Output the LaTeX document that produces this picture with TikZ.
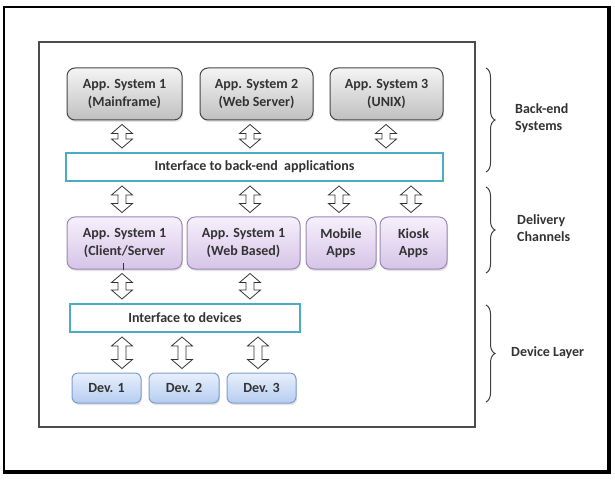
\documentclass[tikz,border=0pt]{standalone}
\usepackage{fontspec}
\setmainfont{Carlito}
\usetikzlibrary{calc,shadows,decorations.pathreplacing}
\definecolor{txt}{HTML}{333333}
\definecolor{teal}{HTML}{4BACC6}
\definecolor{gtop}{HTML}{F4F4F4}
\definecolor{gbot}{HTML}{C0C0C0}
\definecolor{ptop}{HTML}{F6F0FB}
\definecolor{pbot}{HTML}{D6C4E8}
\definecolor{pdraw}{HTML}{9A88B4}
\definecolor{btop}{HTML}{E8F0FC}
\definecolor{bbot}{HTML}{B5CCF0}
\definecolor{bdraw}{HTML}{7F9DCF}
\newcommand\udarrow[3]{%
  \path[udarr] let \p1=(#2.south), \p2=(#3.north), \n1={\y1-4pt}, \n2={\y2+4pt} in
  (#1pt,\n1) -- (#1pt+10.5pt,\n1-9pt) -- (#1pt+4pt,\n1-9pt) -- (#1pt+4pt,\n2+9pt)
  -- (#1pt+10.5pt,\n2+9pt) -- (#1pt,\n2) -- (#1pt-10.5pt,\n2+9pt) -- (#1pt-4pt,\n2+9pt)
  -- (#1pt-4pt,\n1-9pt) -- (#1pt-10.5pt,\n1-9pt) -- cycle;}
\begin{document}
\begin{tikzpicture}[x=1pt,y=-1pt,
  every node/.style={font=\bfseries\fontsize{14}{17.5}\selectfont, text=txt, align=center, inner sep=0pt},
  box/.style={rounded corners=8pt, line width=1pt,
    drop shadow={opacity=0.22, shadow xshift=1pt, shadow yshift=-2pt}},
  gbox/.style={box, draw=black!72, top color=gtop, bottom color=gbot, minimum height=52pt},
  pbox/.style={box, draw=pdraw, top color=ptop, bottom color=pbot, minimum height=52pt},
  dbox/.style={box, rounded corners=6pt, draw=bdraw, top color=btop, bottom color=bbot, minimum height=30pt},
  ibox/.style={draw=teal, line width=2pt, fill=white, minimum height=28pt},
  udarr/.style={draw=black!80, line width=0.8pt, fill=white},
  brc/.style={draw=black!75, line width=1pt, decorate, decoration={brace, amplitude=9pt}},
  lbl/.style={anchor=west, align=left}]
\useasboundingbox (0,0) rectangle (615,494);
\fill[white] (0,0) rectangle (615,494);
\draw[line width=2pt] (4,7) rectangle (609,472);
\draw[line width=3.5pt] (3,472) -- (609,472) -- (609,6);
\draw[black!70, line width=1.3pt] (39,42) rectangle (475,427);

% back-end systems
\node[gbox, minimum width=115pt] (g1) at (124.5,94) {App. System 1\\(Mainframe)};
\node[gbox, minimum width=113pt] (g2) at (256.5,94) {App. System 2\\(Web Server)};
\node[gbox, minimum width=113pt] (g3) at (386.5,94) {App. System 3\\(UNIX)};
\node[ibox, minimum width=377pt] (ib) at (254.5,167) {Interface to back-end\ \ applications};

% delivery channels
\node[pbox, minimum width=115pt] (p1) at (124.5,243) {App. System 1\\(Client/Server};
\node[pbox, minimum width=113pt] (p2) at (243.5,243) {App. System 1\\(Web Based)};
\node[pbox, minimum width=70pt] (p3) at (341,243) {Mobile\\Apps};
\node[pbox, minimum width=67pt] (p4) at (413.5,243) {Kiosk\\Apps};
\draw[txt, line width=1pt] (123,263) -- (123,270);

% devices
\node[ibox, minimum width=230pt] (id) at (185,318) {Interface to devices};
\node[dbox, minimum width=69pt] (d1) at (106.5,388) {Dev. 1};
\node[dbox, minimum width=70pt] (d2) at (184,388) {Dev. 2};
\node[dbox, minimum width=69pt] (d3) at (261.5,388) {Dev. 3};

% arrows
\udarrow{122}{g1}{ib}
\udarrow{250}{g2}{ib}
\udarrow{386}{g3}{ib}
\udarrow{122}{ib}{p1}
\udarrow{250}{ib}{p2}
\udarrow{339}{ib}{p3}
\udarrow{411}{ib}{p4}
\udarrow{122}{p1}{id}
\udarrow{250}{p2}{id}
\udarrow{122}{id}{d1}
\udarrow{182}{id}{d2}
\udarrow{258}{id}{d3}

% braces and labels
\coordinate (b1t) at (486,68);  \coordinate (b1b) at (486,172);
\coordinate (b2t) at (486,187); \coordinate (b2b) at (486,273);
\coordinate (b3t) at (486,305); \coordinate (b3b) at (486,402);
\draw[brc] (b1t) -- (b1b);
\draw[brc] (b2t) -- (b2b);
\draw[brc] (b3t) -- (b3b);
\node[lbl] (l1) at (515,118) {Back-end\\Systems};
\node[lbl] (l2) at (517,228) {Delivery\\Channels};
\node[lbl] (l3) at (511,353) {Device Layer};
\end{tikzpicture}
\end{document}
